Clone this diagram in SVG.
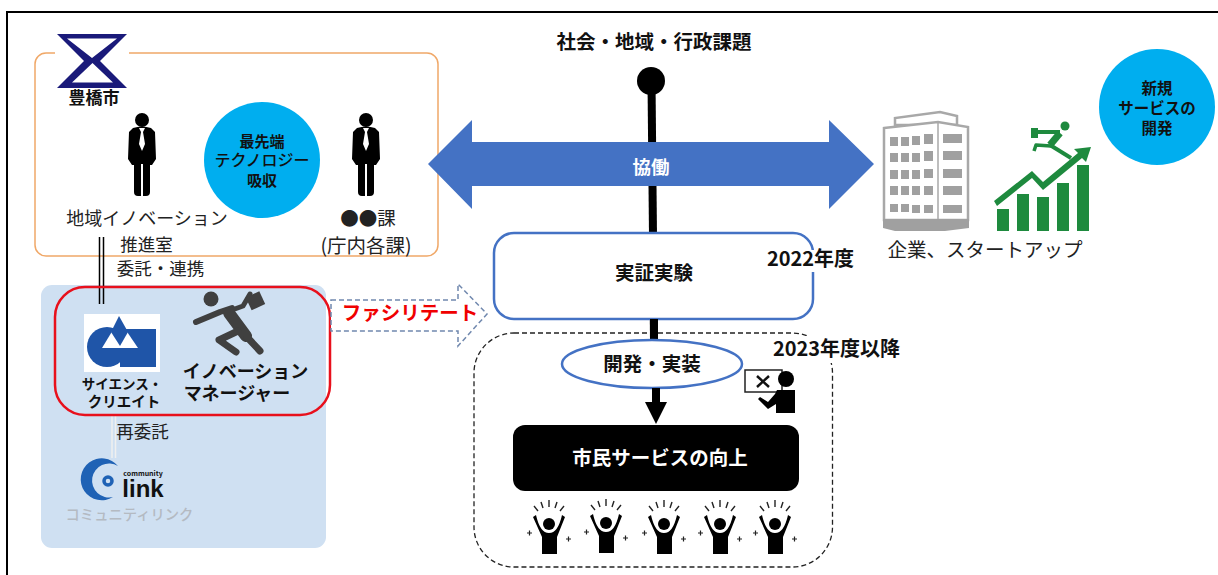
<svg xmlns="http://www.w3.org/2000/svg" width="1218" height="575" viewBox="0 0 1218 575">
<style>
text{font-family:"Noto Sans CJK JP","Noto Sans",sans-serif;text-anchor:middle;fill:#111}
.b{font-weight:700}
.m{font-weight:500}
.r{font-weight:400;fill:#222}
.w{fill:#fff}
.blue{fill:#fff;stroke:#4472c4;stroke-width:2.5}
.grey{fill:#a0a0a0}
.green{fill:#1e8a3e}
</style>
<defs>
<g id="suit">
<circle cx="0" cy="-34" r="7" fill="#000"/>
<path d="M-9,-26 Q0,-29 9,-26 L13,-22 L14,5 L10,11 L8,11 L8,38 Q8,42 4,42 L1,42 L1,10 L-1,10 L-1,42 L-4,42 Q-8,42 -8,38 L-8,11 L-10,11 L-14,5 L-13,-22 Z" fill="#000"/>
<path d="M-3,-26 L3,-26 L1,-22 L3,-10 L0,-3 L-3,-10 L-1,-22 Z" fill="#fff"/>
</g>
<g id="cheer">
<path d="M-16,-8 L-13,-10 Q-9,8 0,8 Q9,8 13,-10 L16,-8 L8,12 V29 H-7 V12 Z" fill="#000"/>
<circle cx="0" cy="-1" r="6" fill="#000"/>
<path d="M-15,-19 L-11,-14 M-8,-23 L-6,-17 M0,-25 L0,-18 M8,-23 L6,-17 M15,-19 L11,-14" stroke="#222" stroke-width="1.4" fill="none"/>
<path d="M-22,8 h5 M-19.500,5.500 v5 M17,14 h5 M19.500,11.500 v5" stroke="#222" stroke-width="1.2" fill="none"/>
</g>
</defs>

<path id="frame" d="M1218,12 H7 V575" fill="none" stroke="#000" stroke-width="2"/>

<g id="city-box">
<rect x="35" y="53" width="403" height="203" rx="11" fill="#fff" stroke="#f0a868" stroke-width="1.500"/>
<rect x="55" y="48" width="74" height="10" fill="#fff"/>
</g>

<g id="connectors">
<path d="M651.500,81 L654,340" stroke="#000" stroke-width="8" fill="none"/>
<path d="M99.500,237 V304 M103.500,237 V304" stroke="#000" stroke-width="1.500" fill="none"/>
</g>

<g id="node-issue">
<text class="b" x="654" y="49" font-size="19.500">社会・地域・行政課題</text>
<circle cx="651" cy="81" r="14" fill="#000"/>
</g>

<g id="node-collab">
<path d="M428,164 L472,120 V142 H829 V120 L874,164 L829,209 V186 H472 V209 Z" fill="#4472c4"/>
<text class="b w" x="651" y="174" font-size="18.500">協働</text>
</g>

<g id="node-toyohashi">
<path fill-rule="evenodd" d="M57,34 H127 L100,61 L127,88 H57 L84,61 Z M67,38.500 L92,58 L117,38.500 Z M72,82.500 H113 L92.500,63 Z" fill="#1a1a7a"/>
<text class="b" x="94" y="104" font-size="17">豊橋市</text>
</g>

<g id="node-innovation-office">
<use href="#suit" x="142" y="154"/>
<text class="r" x="147" y="225" font-size="18">地域イノベーション</text>
<text class="r" x="146.500" y="251" font-size="17.500">推進室</text>
<text class="r" x="160.500" y="275" font-size="17.500">委託・連携</text>
</g>

<g id="node-tech">
<circle cx="262" cy="160" r="58" fill="#00aeef"/>
<text class="b" x="262" y="147" font-size="15">最先端</text>
<text class="m" x="262" y="166" font-size="16">テクノロジー</text>
<text class="b" x="262" y="186" font-size="15">吸収</text>
</g>

<g id="node-sections">
<use href="#suit" x="366" y="154"/>
<text class="r" x="368" y="225" font-size="18.500">●●課</text>
<text class="r" x="366" y="253" font-size="19.500">(庁内各課)</text>
</g>

<g id="node-company">
<path d="M895,125 V118 L940,112 L957,116 V125 Z" fill="#fff" stroke="#a8a8a8" stroke-width="2.500"/>
<path d="M884,128 L938,122 L968,127 V220 H884 Z" fill="#fff" stroke="#a8a8a8" stroke-width="2.500"/>
<path d="M938,122 V220" stroke="#a8a8a8" stroke-width="1.500"/>
<path d="M883,219 H969 V228 L945,231 H895 L883,228 Z" class="grey"/>
<g class="grey">
<rect x="890" y="137" width="8" height="9"/><rect x="901" y="137" width="8" height="9"/><rect x="912" y="136" width="8" height="9"/><rect x="924" y="134" width="9" height="10"/><rect x="943" y="134" width="19" height="9"/>
<rect x="890" y="153" width="8" height="9"/><rect x="901" y="153" width="8" height="9"/><rect x="912" y="153" width="8" height="9"/><rect x="924" y="151" width="9" height="10"/><rect x="943" y="151" width="19" height="9"/>
<rect x="890" y="170" width="8" height="9"/><rect x="901" y="170" width="8" height="9"/><rect x="912" y="170" width="8" height="9"/><rect x="924" y="169" width="9" height="9"/><rect x="943" y="169" width="19" height="9"/>
<rect x="890" y="186" width="8" height="9"/><rect x="901" y="186" width="8" height="9"/><rect x="912" y="186" width="8" height="9"/><rect x="924" y="186" width="9" height="9"/><rect x="943" y="186" width="19" height="9"/>
<rect x="890" y="204" width="8" height="8"/><rect x="901" y="204" width="8" height="8"/><rect x="912" y="205" width="8" height="8"/><rect x="924" y="205" width="9" height="8"/><rect x="943" y="205" width="19" height="8"/>
</g>
<g class="green">
<rect x="997" y="209" width="12" height="22"/><rect x="1017" y="194" width="12" height="37"/><rect x="1037" y="197" width="12" height="34"/><rect x="1057" y="183" width="12" height="48"/><rect x="1077" y="165" width="12" height="66"/>
<path d="M994,201 L1032,171 L1043,182 L1078,153 L1074,149 L1091,147 L1086,162 L1082,158 L1043,190 L1032,178 L997,206 Z"/>
<circle cx="1065" cy="126" r="4.500"/>
<rect x="1031" y="128" width="7" height="10"/>
</g>
<g fill="none" stroke="#1e8a3e" stroke-linejoin="round">
<path d="M1038,132 H1060" stroke-width="4"/>
<path d="M1060,133 L1050,145" stroke-width="7"/>
<path d="M1050,145 L1071,158" stroke-width="4"/>
<path d="M1051,146 L1036,145 L1034,151" stroke-width="3.500"/>
</g>
<text class="r" x="985" y="257" font-size="19.500">企業、スタートアップ</text>
</g>

<g id="node-new-service">
<circle cx="1157" cy="107" r="58" fill="#00aeef"/>
<text class="b" x="1157" y="94" font-size="15.500">新規</text>
<text class="b" x="1157" y="114" font-size="15.500">サービスの</text>
<text class="b" x="1157" y="134" font-size="15.500">開発</text>
</g>

<g id="node-contractors">
<rect x="41" y="285" width="285" height="263" rx="11" fill="#cfe0f2"/>
<path d="M112,415 V458 M115.500,415 V458" stroke="#f0f0f0" stroke-width="1.500" fill="none"/>
<path d="M99.500,285 V304 M103.500,285 V304" stroke="#000" stroke-width="1.500" fill="none"/>
<rect x="55" y="287" width="275" height="128" rx="30" fill="none" stroke="#e8101c" stroke-width="2.500"/>
<rect x="84" y="314" width="76" height="58" fill="#fff"/>
<circle cx="107" cy="347" r="20" fill="#1f55a8"/>
<rect x="120" y="329" width="36" height="38" fill="#1f55a8"/>
<path d="M119,320 L138,348 H102 Z" fill="#fff"/>
<path d="M119,316 L128,332 L120,346 L111,332 Z" fill="#1f55a8"/>
<text class="b" x="122" y="389" font-size="13.500">サイエンス・</text>
<text class="b" x="124" y="407" font-size="14.500">クリエイト</text>
<g fill="none" stroke="#404040" stroke-linecap="round" stroke-linejoin="round">
<path d="M196,322 L220,312 L232,308" stroke-width="6"/>
<path d="M232,310 L243,306 L250,294" stroke-width="5"/>
<path d="M229,313 L246,336" stroke-width="12"/>
<path d="M247,337 L260,351" stroke-width="7"/>
<path d="M238,331 L219,340 L236,352" stroke-width="7"/>
</g>
<circle cx="211" cy="299" r="7.500" fill="#404040"/>
<rect x="248" y="294" width="15" height="14" transform="rotate(-25 255 301)" fill="#404040"/>
<text class="b" x="245.500" y="378" font-size="18">イノベーション</text>
<text class="b" x="237" y="400" font-size="18">マネージャー</text>
<text class="r" x="142.500" y="438" font-size="17.500">再委託</text>
<path d="M118,466 A21,21 0 1 0 113,497 A17,17 0 1 1 118,466 Z" fill="#1f62b5"/>
<circle cx="108" cy="481" r="4" fill="none" stroke="#1f62b5" stroke-width="3.500"/>
<text class="b" x="143" y="476" font-size="7">community</text>
<text class="b" x="143" y="497" font-size="24" style="font-family:'Liberation Sans',sans-serif">link</text>
<text class="m" x="129.500" y="520" font-size="14.300" style="fill:#b4bac2">コミュニティリンク</text>
</g>

<g id="node-facilitate">
<path d="M331,300 H458 V284 L487,314 L458,346 V331 H331 Z" fill="#fff" stroke="#7088ae" stroke-width="1.500" stroke-dasharray="5 3"/>
<text class="b" x="410" y="320" font-size="19.500" style="fill:#f00000">ファシリテート</text>
</g>

<g id="node-experiment">
<rect x="494" y="233" width="319" height="86" rx="20" class="blue"/>
<rect x="764" y="250" width="96" height="22" fill="#fff"/>
<text class="b" x="654" y="280" font-size="19.500">実証実験</text>
<text class="b" x="810.500" y="266" font-size="20">2022年度</text>
</g>

<g id="node-after2023">
<rect x="474" y="333" width="358.500" height="234" rx="40" fill="none" stroke="#222" stroke-width="1.300" stroke-dasharray="5 3"/>
<rect x="770" y="336" width="134" height="27" fill="#fff"/>
<text class="b" x="836.500" y="356" font-size="20">2023年度以降</text>
</g>

<g id="node-dev">
<path d="M654,319 V342" stroke="#000" stroke-width="8"/>
<ellipse cx="652" cy="364" rx="90" ry="24" class="blue"/>
<text class="b" x="652" y="371" font-size="19.500">開発・実装</text>
<path d="M656,388 V404" stroke="#000" stroke-width="8"/>
<path d="M645,402 H667 L656,424 Z" fill="#000"/>
</g>

<g id="node-teacher">
<rect x="745" y="370" width="37" height="22" fill="#fff" stroke="#222" stroke-width="1.500"/>
<path d="M757,376 L769,387 M769,376 L757,387" stroke="#111" stroke-width="2.500"/>
<circle cx="786" cy="379" r="8" fill="#000"/>
<path d="M777,390 H795 V413 H776 V404 L768,409 L758,399 L760,397 L768,402 L775,394 Z" fill="#000"/>
</g>

<g id="node-citizen">
<rect x="513" y="425" width="286" height="66" rx="12" fill="#000"/>
<text class="b w" x="660" y="465" font-size="19.500">市民サービスの向上</text>
</g>

<g id="node-people">
<use href="#cheer" x="549" y="525"/>
<use href="#cheer" x="606" y="524"/>
<use href="#cheer" x="664" y="525"/>
<use href="#cheer" x="720" y="525"/>
<use href="#cheer" x="775" y="525"/>
</g>
</svg>
